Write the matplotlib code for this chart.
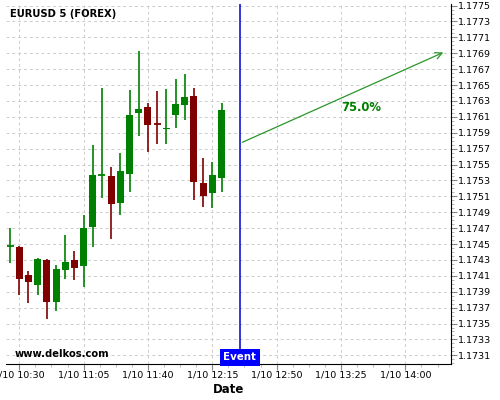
import datetime as dt
import matplotlib
matplotlib.use("Agg")
import matplotlib.pyplot as plt
import matplotlib.dates as mdates
from matplotlib.ticker import AutoMinorLocator, FixedLocator, FormatStrFormatter

# 5 minute candles, EURUSD, 1/10 from 10:25 to 12:20
start = dt.datetime(2018, 1, 10, 10, 25)
times = [start + dt.timedelta(minutes=5 * i) for i in range(24)]
opens = [1.17447, 1.174466, 1.174116, 1.173983, 1.174304, 1.173771, 1.174171, 1.174304,
         1.174221, 1.174716, 1.17536, 1.175354, 1.175021, 1.175383, 1.176145, 1.176229,
         1.17601, 1.175945, 1.17612, 1.176245, 1.176366, 1.175266, 1.175145, 1.175333]
closes = [1.17448, 1.174066, 1.17402, 1.174316, 1.173771, 1.174191, 1.174279, 1.174196,
          1.174704, 1.175366, 1.17537, 1.175008, 1.175416, 1.176125, 1.176204, 1.175995,
          1.176, 1.175966, 1.176266, 1.176354, 1.175283, 1.175108, 1.175366, 1.17619]
highs = [1.174708, 1.17447, 1.174163, 1.17432, 1.174316, 1.174238, 1.174613, 1.174413,
         1.174863, 1.17575, 1.176458, 1.175466, 1.175645, 1.176438, 1.176925, 1.17627,
         1.176425, 1.17645, 1.17658, 1.176638, 1.176463, 1.175588, 1.175538, 1.176279]
lows = [1.174263, 1.173858, 1.173763, 1.173858, 1.173563, 1.173663, 1.174058, 1.174045,
        1.173958, 1.174458, 1.175083, 1.174563, 1.174863, 1.175158, 1.175863, 1.175663,
        1.175763, 1.175763, 1.175963, 1.176063, 1.175058, 1.174963, 1.174958, 1.175158]

event_time = dt.datetime(2018, 1, 10, 12, 30)
arrow_end_time = dt.datetime(2018, 1, 10, 14, 22)
arrow_start_val = 1.175766
arrow_end_val = 1.176925
pct_label = "75.0%"

xtick_times = [dt.datetime(2018, 1, 10, 10, 30) + dt.timedelta(minutes=35 * i) for i in range(7)]
xtick_labels = [f"{t.month}/{t.day} {t:%H:%M}" for t in xtick_times]
ytick_vals = [1.1731 + 0.0002 * i for i in range(23)]

green = "#008000"
red = "#800000"

fig = plt.figure(figsize=(5, 4), dpi=100)
ax = fig.add_axes([0.012, 0.09, 0.89, 0.9])

x = mdates.date2num(times)
w = 3.8 / 1440
for xi, o, c, h, l in zip(x, opens, closes, highs, lows):
    col = green if c >= o else red
    ax.vlines(xi, l, h, color=col, lw=1.2, zorder=3)
    lo, hi = min(o, c), max(o, c)
    if hi - lo < 0.000012:
        ax.hlines((o + c) / 2, xi - w / 2, xi + w / 2, color=col, lw=1.3, zorder=3)
    else:
        ax.bar(xi, hi - lo, width=w, bottom=lo, color=col, zorder=3)

# event line and prediction arrow
ex = mdates.date2num(event_time)
ax.axvline(ex, color="#0000cc", lw=1.1, zorder=4)
ax.annotate("", xy=(mdates.date2num(arrow_end_time), arrow_end_val),
            xytext=(ex, arrow_start_val),
            arrowprops=dict(arrowstyle="->", color="#2a962a", lw=0.9, mutation_scale=12), zorder=5)
ax.text(mdates.date2num(dt.datetime(2018, 1, 10, 14, 0)) - 24 / 1440, 1.17622, pct_label,
        color=green, fontsize=8.4, fontweight="bold", ha="center", va="center")
ax.text(ex, 1.17301, "Event", color="white", fontsize=7.4, fontweight="bold",
        ha="center", va="bottom", zorder=6,
        bbox=dict(boxstyle="square,pad=0.38", fc="#0000ff", ec="none"))

ax.text(0.01, 0.985, "EURUSD 5 (FOREX)", transform=ax.transAxes, fontsize=7.2,
        fontweight="bold", va="top", ha="left")
ax.text(0.02, 0.028, "www.delkos.com", transform=ax.transAxes, fontsize=7.2,
        fontweight="bold", va="center", ha="left")

ax.set_xlim(mdates.date2num(dt.datetime(2018, 1, 10, 10, 22, 48)),
            mdates.date2num(dt.datetime(2018, 1, 10, 14, 24, 48)))
ax.set_ylim(1.172991, 1.17752)

ax.xaxis.set_major_locator(FixedLocator(mdates.date2num(xtick_times)))
ax.set_xticklabels(xtick_labels)
ax.xaxis.set_minor_locator(AutoMinorLocator(4))
ax.yaxis.tick_right()
ax.yaxis.set_major_locator(FixedLocator(ytick_vals))
ax.yaxis.set_minor_locator(AutoMinorLocator(4))
ax.yaxis.set_major_formatter(FormatStrFormatter("%.4f"))
ax.tick_params(axis="both", which="major", labelsize=6.8, length=4, color="#888888", pad=1)
ax.tick_params(axis="both", which="minor", length=2, color="#aaaaaa")

ax.grid(True, which="major", color="#cccccc", ls=(0, (3, 3)), lw=0.7)
ax.set_axisbelow(True)
for s in ["left", "top"]:
    ax.spines[s].set_visible(False)
ax.spines["right"].set_color("black")
ax.spines["bottom"].set_color("black")
ax.set_xlabel("Date", fontsize=8.5, fontweight="bold", labelpad=2)

fig.savefig("out.png", dpi=100)
